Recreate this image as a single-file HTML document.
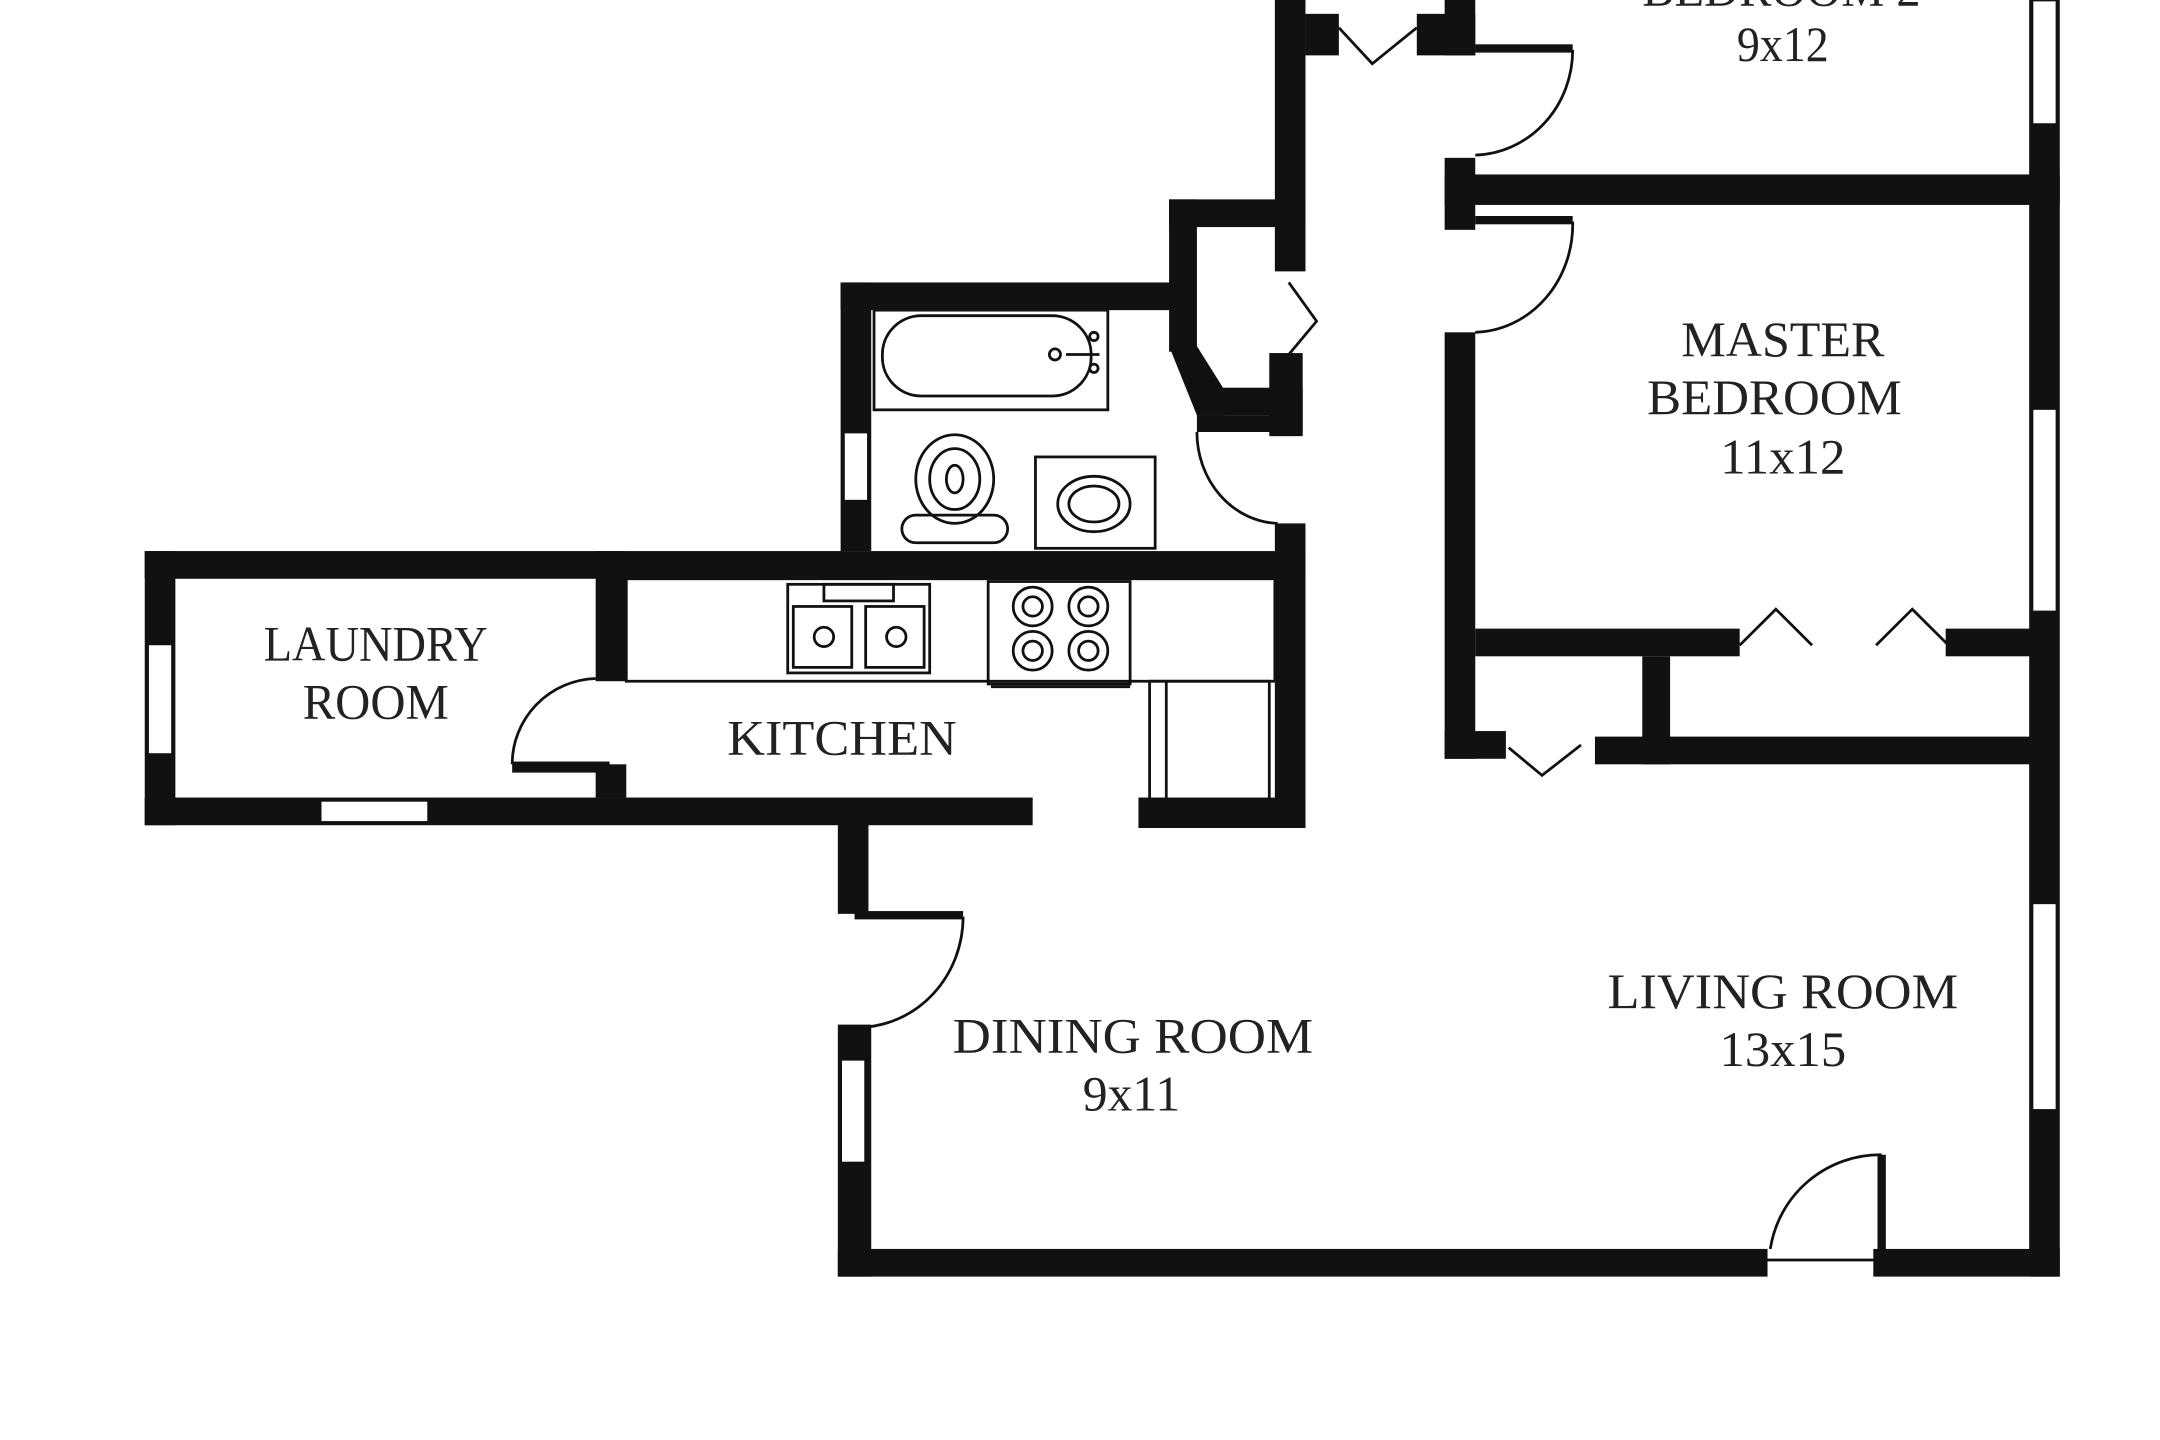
<!DOCTYPE html>
<html><head><meta charset="utf-8"><style>
html,body{margin:0;padding:0;background:#fff;width:2160px;height:1440px;overflow:hidden}
svg{display:block}
text{font-family:"Liberation Serif",serif;font-size:36px;fill:#222;text-anchor:middle}
</style></head><body>
<svg width="2160" height="1440" viewBox="0 0 1552 1040" preserveAspectRatio="none" xmlns="http://www.w3.org/2000/svg">
<g fill="#111">
<rect x="1458" y="0" width="22" height="922"/>
<rect x="602" y="902" width="668" height="20"/>
<rect x="1346" y="902" width="134" height="20"/>
<rect x="602" y="578" width="22" height="82"/>
<rect x="602" y="740" width="24" height="182"/>
<rect x="104" y="576" width="638" height="20"/>
<rect x="818" y="576" width="120" height="22"/>
<rect x="104" y="398" width="22" height="198"/>
<rect x="104" y="398" width="834" height="20"/>
<rect x="428" y="398" width="22" height="94"/>
<rect x="428" y="552" width="22" height="24"/>
<rect x="368" y="550" width="70" height="8"/>
<rect x="916" y="378" width="22" height="220"/>
<rect x="604" y="204" width="22" height="194"/>
<rect x="604" y="204" width="238" height="20"/>
<rect x="840" y="144" width="20" height="110"/>
<rect x="840" y="144" width="98" height="20"/>
<polygon points="840,250 860,250 880,282 880,300 860,300"/>
<rect x="860" y="280" width="76" height="20"/>
<rect x="860" y="300" width="76" height="12"/>
<rect x="912" y="255" width="24" height="60"/>
<rect x="916" y="0" width="22" height="196"/>
<rect x="938" y="10" width="24" height="30"/>
<rect x="1018" y="10" width="42" height="30"/>
<rect x="1038" y="0" width="22" height="40"/>
<rect x="1038" y="114" width="22" height="52"/>
<rect x="1038" y="240" width="22" height="308"/>
<rect x="1060" y="32" width="70" height="6"/>
<rect x="1060" y="156" width="70" height="6"/>
<rect x="1038" y="126" width="442" height="22"/>
<rect x="1060" y="454" width="190" height="20"/>
<rect x="1398" y="454" width="62" height="20"/>
<rect x="1180" y="474" width="20" height="78"/>
<rect x="1146" y="532" width="314" height="20"/>
<rect x="1038" y="528" width="44" height="20"/>
</g>
<g fill="#fff" stroke="#111" stroke-width="2">
<rect x="1460" y="0" width="18" height="90"/>
<rect x="1460" y="295" width="18" height="147"/>
<rect x="1460" y="652" width="18" height="150"/>
<rect x="604" y="765" width="18" height="75"/>
<rect x="106" y="465" width="18" height="80"/>
<rect x="230" y="578" width="78" height="16"/>
<rect x="606" y="312" width="18" height="50"/>
</g>
<g fill="none" stroke="#111" stroke-width="2">
<path d="M1272,902 A80,80 0 0 1 1352,834"/>
<line x1="1268" y1="910" x2="1348" y2="910"/>
<path d="M692,662 A76,80 0 0 1 618,742"/>
<path d="M368,552 A62,62 0 0 1 428,490"/>
<path d="M860,312 A60,66 0 0 0 918,378"/>
<path d="M1130,36 A72,76 0 0 1 1060,112"/>
<path d="M1130,160 A72,78 0 0 1 1060,240"/>
<polyline points="962,20 986,46 1018,20"/>
<polyline points="1250,466 1276,440 1302,466"/>
<polyline points="1348,466 1374,440 1400,466"/>
<polyline points="1084,540 1108,560 1136,538"/>
<polyline points="926,204 946,232 926,256"/>
</g>
<g fill="#111"><rect x="1349" y="834" width="6" height="70"/><rect x="614" y="658" width="78" height="6"/></g>
<g fill="none" stroke="#111" stroke-width="2">
<rect x="628" y="224" width="168" height="72"/>
<rect x="634" y="228" width="150" height="58" rx="28"/>
<circle cx="758" cy="256" r="4"/><circle cx="786" cy="243" r="3"/><circle cx="786" cy="266" r="3"/>
<line x1="766" y1="256" x2="790" y2="256"/>
<rect x="744" y="330" width="86" height="66"/>
<ellipse cx="786" cy="364" rx="26" ry="20"/><ellipse cx="786" cy="364" rx="18" ry="13"/>
<ellipse cx="686" cy="346" rx="28" ry="32"/><ellipse cx="686" cy="346" rx="18" ry="22"/>
<ellipse cx="686" cy="346" rx="6" ry="10"/>
<rect x="648" y="372" width="76" height="20" rx="10"/>
<rect x="450" y="418" width="466" height="74"/>
<rect x="566" y="422" width="102" height="64"/>
<rect x="570" y="438" width="42" height="44"/><rect x="622" y="438" width="42" height="44"/>
<circle cx="592" cy="460" r="7"/><circle cx="644" cy="460" r="7"/>
<rect x="592" y="422" width="50" height="12"/>
<rect x="710" y="420" width="102" height="74"/><line x1="712" y1="496" x2="812" y2="496"/>
<circle cx="742" cy="438" r="14"/><circle cx="782" cy="438" r="14"/><circle cx="742" cy="470" r="14"/><circle cx="782" cy="470" r="14"/>
<circle cx="742" cy="438" r="7"/><circle cx="782" cy="438" r="7"/><circle cx="742" cy="470" r="7"/><circle cx="782" cy="470" r="7"/>
<rect x="826" y="492" width="86" height="86"/><line x1="838" y1="492" x2="838" y2="576"/>
</g>
<text x="1280" y="4" textLength="200" lengthAdjust="spacingAndGlyphs">BEDROOM 2</text>
<text x="1281" y="44" textLength="66" lengthAdjust="spacingAndGlyphs">9x12</text>
<text x="1281" y="257" textLength="146" lengthAdjust="spacingAndGlyphs">MASTER</text>
<text x="1275" y="299" textLength="183" lengthAdjust="spacingAndGlyphs">BEDROOM</text>
<text x="1281" y="342" textLength="90" lengthAdjust="spacingAndGlyphs">11x12</text>
<text x="270" y="477" textLength="161" lengthAdjust="spacingAndGlyphs">LAUNDRY</text>
<text x="270" y="519" textLength="105" lengthAdjust="spacingAndGlyphs">ROOM</text>
<text x="605" y="545" textLength="165" lengthAdjust="spacingAndGlyphs">KITCHEN</text>
<text x="814" y="760" textLength="259" lengthAdjust="spacingAndGlyphs">DINING ROOM</text>
<text x="813" y="802" textLength="70" lengthAdjust="spacingAndGlyphs">9x11</text>
<text x="1281" y="728" textLength="252" lengthAdjust="spacingAndGlyphs">LIVING ROOM</text>
<text x="1281" y="770" textLength="91" lengthAdjust="spacingAndGlyphs">13x15</text>
</svg>
</body></html>
